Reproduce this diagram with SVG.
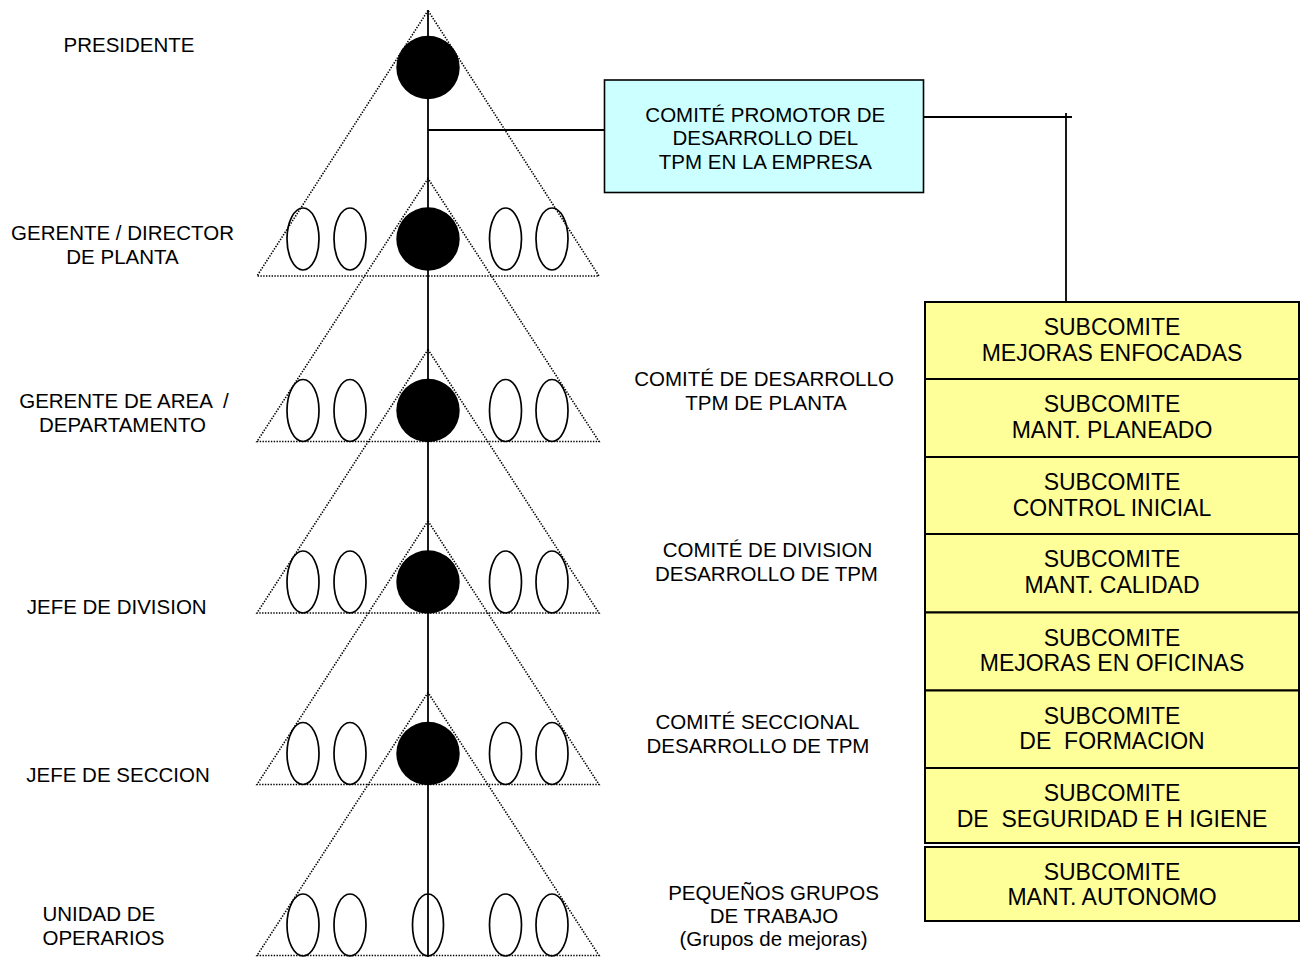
<svg xmlns="http://www.w3.org/2000/svg" width="1309" height="957" viewBox="0 0 1309 957">
  <style>
    text { font-family: "Liberation Sans", Arial, sans-serif; fill: #000; }
    .lbl { font-size: 20.5px; text-anchor: middle; }
    .lbl-start { font-size: 20.5px; text-anchor: start; }
    .sub { font-size: 23px; text-anchor: middle; }
    .tri { fill: none; stroke: #000; stroke-width: 1.6; stroke-dasharray: 1.4 1.4; }
    .member { fill: none; stroke: #000; stroke-width: 1.7; }
    .head { fill: #000; stroke: none; }
    .wire { fill: none; stroke: #000; stroke-width: 1.8; }
    .promo { fill: #CCFFFF; stroke: #000; stroke-width: 1.6; }
    .subbox { fill: #FFFF99; stroke: #000; stroke-width: 2; }
  </style>

  <!-- dotted pyramids, one per hierarchy level -->
  <g id="pyramids">
    <polygon class="tri" points="428,10.5 257,276 599,276"/>
    <polygon class="tri" points="428,178.5 257,441.5 599,441.5"/>
    <polygon class="tri" points="428,349.5 257,613 599,613"/>
    <polygon class="tri" points="428,521 257,784.5 599,784.5"/>
    <polygon class="tri" points="428,692.5 257,955.5 599,955.5"/>
  </g>

  <!-- connectors -->
  <g id="connectors">
    <line class="wire" x1="428" y1="10" x2="428" y2="957"/>
    <line class="wire" x1="428" y1="130" x2="605" y2="130"/>
    <line class="wire" x1="923" y1="117" x2="1072" y2="117"/>
    <line class="wire" x1="1066" y1="113" x2="1066" y2="302"/>
  </g>

  <!-- level 1: presidente -->
  <g id="level-presidente">
    <circle class="head" cx="428" cy="67.5" r="31.7"/>
  </g>

  <!-- level 2 -->
  <g id="level-gerente-planta">
    <ellipse class="member" cx="303" cy="239" rx="16" ry="31"/>
    <ellipse class="member" cx="350" cy="239" rx="16" ry="31"/>
    <circle class="head" cx="428" cy="239" r="31.7"/>
    <ellipse class="member" cx="505.5" cy="239" rx="16" ry="31"/>
    <ellipse class="member" cx="552" cy="239" rx="16" ry="31"/>
  </g>

  <!-- level 3 -->
  <g id="level-gerente-area">
    <ellipse class="member" cx="303" cy="410.5" rx="16" ry="31"/>
    <ellipse class="member" cx="350" cy="410.5" rx="16" ry="31"/>
    <circle class="head" cx="428" cy="410.5" r="31.7"/>
    <ellipse class="member" cx="505.5" cy="410.5" rx="16" ry="31"/>
    <ellipse class="member" cx="552" cy="410.5" rx="16" ry="31"/>
  </g>

  <!-- level 4 -->
  <g id="level-jefe-division">
    <ellipse class="member" cx="303" cy="582" rx="16" ry="31"/>
    <ellipse class="member" cx="350" cy="582" rx="16" ry="31"/>
    <circle class="head" cx="428" cy="582" r="31.7"/>
    <ellipse class="member" cx="505.5" cy="582" rx="16" ry="31"/>
    <ellipse class="member" cx="552" cy="582" rx="16" ry="31"/>
  </g>

  <!-- level 5 -->
  <g id="level-jefe-seccion">
    <ellipse class="member" cx="303" cy="753.5" rx="16" ry="31"/>
    <ellipse class="member" cx="350" cy="753.5" rx="16" ry="31"/>
    <circle class="head" cx="428" cy="753.5" r="31.7"/>
    <ellipse class="member" cx="505.5" cy="753.5" rx="16" ry="31"/>
    <ellipse class="member" cx="552" cy="753.5" rx="16" ry="31"/>
  </g>

  <!-- level 6: operarios -->
  <g id="level-operarios">
    <ellipse class="member" cx="303" cy="925" rx="16" ry="31"/>
    <ellipse class="member" cx="350" cy="925" rx="16" ry="31"/>
    <ellipse class="member" cx="428" cy="925" rx="15.5" ry="31"/>
    <ellipse class="member" cx="505.5" cy="925" rx="16" ry="31"/>
    <ellipse class="member" cx="552" cy="925" rx="16" ry="31"/>
  </g>

  <!-- role labels -->
  <g id="role-labels">
    <text class="lbl" x="129" y="52">PRESIDENTE</text>
    <text class="lbl" x="122.5" y="240">GERENTE / DIRECTOR</text>
    <text class="lbl" x="122.5" y="263.5">DE PLANTA</text>
    <text class="lbl" x="124" y="408" xml:space="preserve">GERENTE DE AREA  /</text>
    <text class="lbl" x="122.5" y="432">DEPARTAMENTO</text>
    <text class="lbl" x="116.7" y="614">JEFE DE DIVISION</text>
    <text class="lbl" x="118" y="781.5">JEFE DE SECCION</text>
    <text class="lbl-start" x="42.5" y="921">UNIDAD DE</text>
    <text class="lbl-start" x="42.5" y="945">OPERARIOS</text>
  </g>

  <!-- committee labels -->
  <g id="committee-labels">
    <text class="lbl" x="764" y="386">COMITÉ DE DESARROLLO</text>
    <text class="lbl" x="766" y="410">TPM DE PLANTA</text>
    <text class="lbl" x="767.5" y="556.5">COMITÉ DE DIVISION</text>
    <text class="lbl" x="766.5" y="581">DESARROLLO DE TPM</text>
    <text class="lbl" x="757.5" y="728.5">COMITÉ SECCIONAL</text>
    <text class="lbl" x="758" y="752.5">DESARROLLO DE TPM</text>
    <text class="lbl" x="773.5" y="899.5">PEQUEÑOS GRUPOS</text>
    <text class="lbl" x="774" y="923">DE TRABAJO</text>
    <text class="lbl" x="773.5" y="946">(Grupos de mejoras)</text>
  </g>

  <!-- promoting committee -->
  <g id="comite-promotor">
    <rect class="promo" x="604.5" y="80" width="319" height="112.5"/>
    <text class="lbl" x="765.3" y="121.7">COMITÉ PROMOTOR DE</text>
    <text class="lbl" x="765.3" y="145">DESARROLLO DEL</text>
    <text class="lbl" x="765.3" y="169">TPM EN LA EMPRESA</text>
  </g>

  <!-- subcommittees -->
  <g id="sub-mejoras-enfocadas">
    <rect class="subbox" x="925" y="302" width="374" height="77"/>
    <text class="sub" x="1112" y="335">SUBCOMITE</text>
    <text class="sub" x="1112" y="360.5">MEJORAS ENFOCADAS</text>
  </g>
  <g id="sub-mant-planeado">
    <rect class="subbox" x="925" y="379" width="374" height="78"/>
    <text class="sub" x="1112" y="412">SUBCOMITE</text>
    <text class="sub" x="1112" y="437.5">MANT. PLANEADO</text>
  </g>
  <g id="sub-control-inicial">
    <rect class="subbox" x="925" y="457" width="374" height="77"/>
    <text class="sub" x="1112" y="490">SUBCOMITE</text>
    <text class="sub" x="1112" y="515.5">CONTROL INICIAL</text>
  </g>
  <g id="sub-mant-calidad">
    <rect class="subbox" x="925" y="534" width="374" height="78.5"/>
    <text class="sub" x="1112" y="567">SUBCOMITE</text>
    <text class="sub" x="1112" y="592.5">MANT. CALIDAD</text>
  </g>
  <g id="sub-mejoras-oficinas">
    <rect class="subbox" x="925" y="612.5" width="374" height="78"/>
    <text class="sub" x="1112" y="645.5">SUBCOMITE</text>
    <text class="sub" x="1112" y="671">MEJORAS EN OFICINAS</text>
  </g>
  <g id="sub-formacion">
    <rect class="subbox" x="925" y="690.5" width="374" height="77.5"/>
    <text class="sub" x="1112" y="723.5">SUBCOMITE</text>
    <text class="sub" x="1112" y="749" xml:space="preserve">DE  FORMACION</text>
  </g>
  <g id="sub-seguridad">
    <rect class="subbox" x="925" y="768" width="374" height="75"/>
    <text class="sub" x="1112" y="801">SUBCOMITE</text>
    <text class="sub" x="1112" y="826.5" xml:space="preserve">DE  SEGURIDAD E H IGIENE</text>
  </g>
  <g id="sub-mant-autonomo">
    <rect class="subbox" x="925" y="847" width="374" height="74"/>
    <text class="sub" x="1112" y="880">SUBCOMITE</text>
    <text class="sub" x="1112" y="905">MANT. AUTONOMO</text>
  </g>
</svg>
